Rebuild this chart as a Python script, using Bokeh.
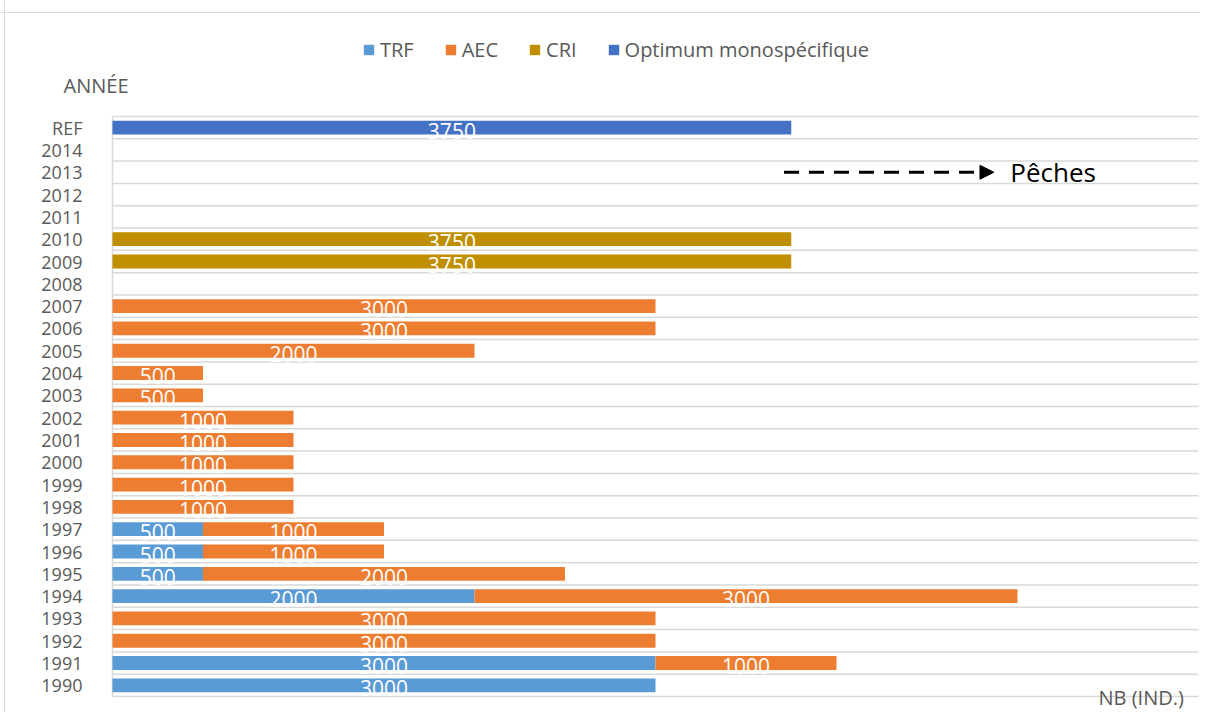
from bokeh.plotting import figure
from bokeh.models import (ColumnDataSource, Range1d, FixedTicker, Label, Arrow,
                          NormalHead, Span)
from bokeh.embed import file_html
from bokeh.resources import INLINE
from bokeh.core.properties import value

# ---------------- data ----------------
categories = ["1990", "1991", "1992", "1993", "1994", "1995", "1996", "1997",
              "1998", "1999", "2000", "2001", "2002", "2003", "2004", "2005",
              "2006", "2007", "2008", "2009", "2010", "2011", "2012", "2013",
              "2014", "REF"]
series_names = ["TRF", "AEC", "CRI", "Optimum monospécifique"]
trf = [3000, 3000, 0, 0, 2000, 500, 500, 500, 0, 0, 0, 0, 0, 0, 0, 0,
       0, 0, 0, 0, 0, 0, 0, 0, 0, 0]
aec = [0, 1000, 3000, 3000, 3000, 2000, 1000, 1000, 1000, 1000, 1000, 1000,
       1000, 500, 500, 2000, 3000, 3000, 0, 0, 0, 0, 0, 0, 0, 0]
cri = [0, 0, 0, 0, 0, 0, 0, 0, 0, 0, 0, 0, 0, 0, 0, 0, 0, 0, 0,
       3750, 3750, 0, 0, 0, 0, 0]
opt = [0, 0, 0, 0, 0, 0, 0, 0, 0, 0, 0, 0, 0, 0, 0, 0, 0, 0, 0,
       0, 0, 0, 0, 0, 0, 3750]
colors = ["#5B9BD5", "#ED7D31", "#BF8F00", "#4472C4"]
x_max = 6000

FONT = "Open Sans"
GREY = "#595959"
GRID = "#D9D9D9"

# ---------------- layout (pixels) ----------------
W, H = 1200, 712
PLOT_L, PLOT_R, PLOT_T, PLOT_B = 112, 1198, 116, 696
n = len(categories)
px_x = (PLOT_R - PLOT_L) / x_max
px_y = (PLOT_B - PLOT_T) / n
x0 = -PLOT_L / px_x
x1 = (W - PLOT_L) / px_x
y_top = (n - 0.5) + PLOT_T / px_y
y_bot = (n - 0.5) - (H - PLOT_T) / px_y

idx = list(range(n))
keys = ["trf", "aec", "cri", "opt"]
src = ColumnDataSource(dict(y=idx, trf=trf, aec=aec, cri=cri, opt=opt))

p = figure(width=W, height=H, output_backend="svg", toolbar_location=None,
           x_range=Range1d(x0, x1), y_range=Range1d(y_bot, y_top),
           min_border=0)
p.outline_line_color = None
p.background_fill_color = "white"
p.border_fill_color = "white"
p.xgrid.visible = False
p.ygrid.visible = False
p.xaxis.visible = False

# outer chart border
p.add_layout(Span(location=4, dimension="height", location_units="screen",
                  line_color=GRID, line_width=1))
p.add_layout(Span(location=H - 12, dimension="width", location_units="screen",
                  line_color=GRID, line_width=1))

# category separators (grid) and value axis line
gy = [i - 0.5 for i in range(n + 1)]
p.segment(x0=[0] * len(gy), x1=[x_max] * len(gy), y0=gy, y1=gy,
          line_color=GRID, line_width=1.5)
p.segment(x0=[0], x1=[0], y0=[-0.5], y1=[n - 0.5], line_color=GRID,
          line_width=1.5)

p.hbar_stack(keys, y="y", height=0.62, fill_color=colors, line_color=None,
             source=src, legend_label=series_names)

# segment labels
lx, ly, lt = [], [], []
for i in idx:
    start = 0
    for arr in (trf, aec, cri, opt):
        v = arr[i]
        if v:
            lx.append(start + v / 2)
            ly.append(i)
            lt.append(str(v))
        start += v
p.text(x=lx, y=ly, text=lt, text_color="white", text_font=value(FONT),
       text_font_size="21px", text_align="center", text_baseline="middle",
       y_offset=3)

# category axis
yax = p.yaxis[0]
yax.fixed_location = 0
yax.ticker = FixedTicker(ticks=idx)
yax.major_label_overrides = {i: c for i, c in enumerate(categories)}
yax.major_label_text_font = FONT
yax.major_label_text_font_size = "18px"
yax.major_label_text_color = GREY
yax.major_tick_line_color = None
yax.minor_tick_line_color = None
yax.axis_line_color = None
yax.major_label_standoff = 24

# legend
lg = p.legend[0]
lg.orientation = "horizontal"
lg.location = (362, H - 63)
lg.border_line_color = None
lg.background_fill_alpha = 0
lg.padding = 0
lg.margin = 0
lg.spacing = 30
lg.glyph_width = 13
lg.glyph_height = 13
lg.label_standoff = 5
lg.label_text_font = FONT
lg.label_text_font_size = "20px"
lg.label_text_color = GREY

# axis titles
p.add_layout(Label(x=63, y=H - 85, x_units="screen", y_units="screen",
                   text="ANNÉE", text_font=FONT, text_font_size="20px",
                   text_color=GREY, text_baseline="middle"))
p.add_layout(Label(x=1098, y=H - 697, x_units="screen", y_units="screen",
                   text="NB (IND.)", text_font=FONT, text_font_size="20px",
                   text_color=GREY, text_baseline="middle"))

# arrow annotation
p.add_layout(Arrow(x_start=3710, y_start=23, x_end=4870, y_end=23,
                   line_color="black", line_width=3, line_dash="15 10",
                   end=NormalHead(size=14, fill_color="black", line_color="black")))
p.add_layout(Label(x=4960, y=23, text="Pêches", text_font=FONT,
                   text_font_size="26px", text_color="black",
                   text_baseline="middle"))

open("out.html", "w").write(file_html(p, INLINE))
